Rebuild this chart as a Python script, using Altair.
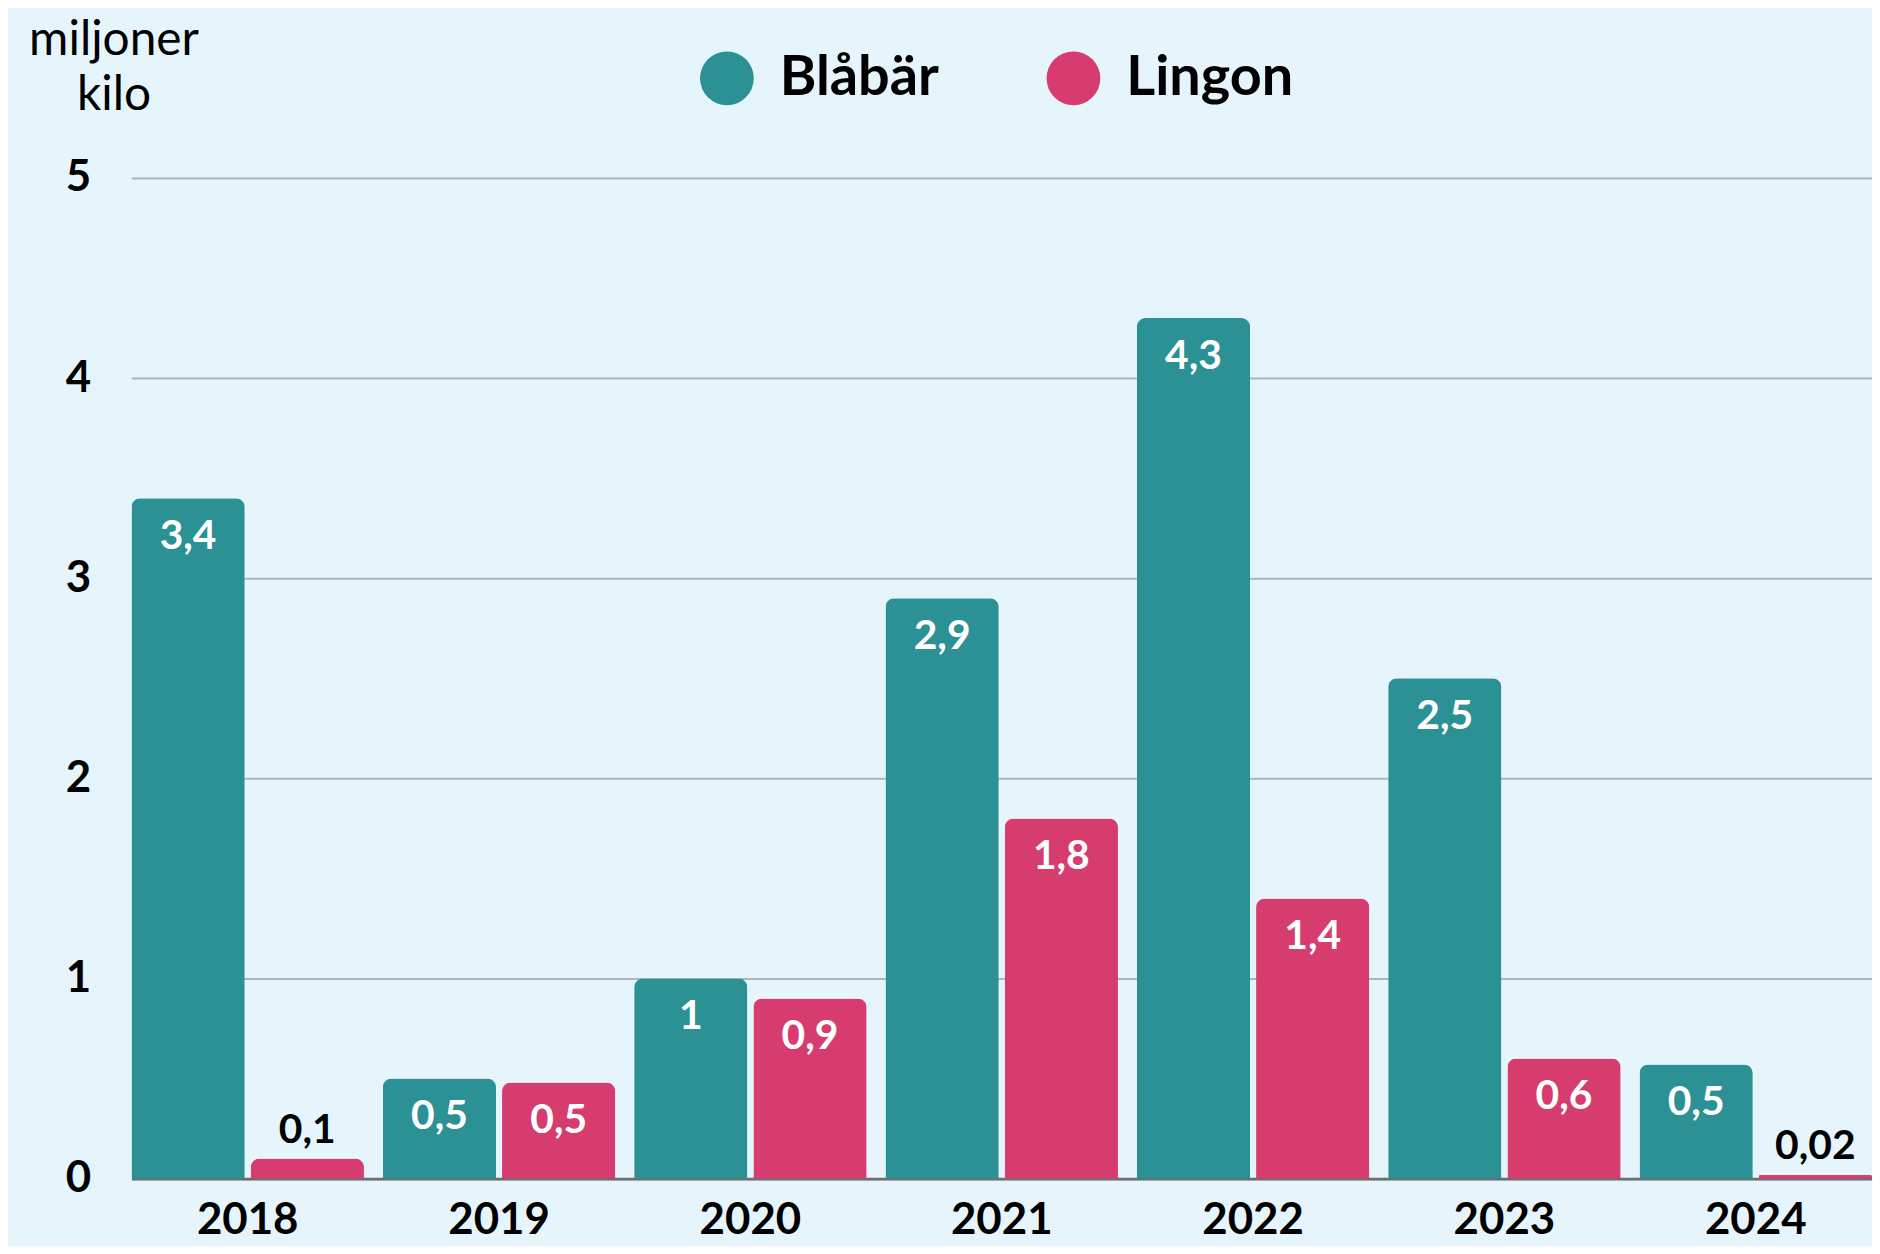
import altair as alt
import pandas as pd

years = ["2018", "2019", "2020", "2021", "2022", "2023", "2024"]
series = ["Blåbär", "Lingon"]
blabar = [3.4, 0.5, 1.0, 2.9, 4.3, 2.5, 0.57]
lingon = [0.1, 0.48, 0.9, 1.8, 1.4, 0.6, 0.02]
blabar_labels = ["3,4", "0,5", "1", "2,9", "4,3", "2,5", "0,5"]
lingon_labels = ["0,1", "0,5", "0,9", "1,8", "1,4", "0,6", "0,02"]
y_ticks = [0, 1, 2, 3, 4, 5]
colors = ["#2C9194", "#D63C6E"]

rows = []
for i, yr in enumerate(years):
    rows.append(dict(year=yr, serie=series[0], value=blabar[i], label=blabar_labels[i]))
    rows.append(dict(year=yr, serie=series[1], value=lingon[i], label=lingon_labels[i]))
df = pd.DataFrame(rows)

FONT = "Lato"

x = alt.X(
    "year:N", sort=years,
    scale=alt.Scale(paddingInner=0.075, paddingOuter=0),
    axis=alt.Axis(title=None, labelAngle=0, labelFont=FONT, labelFontSize=44,
                  labelFontWeight="bold", labelColor="#000000", labelPadding=20,
                  ticks=False, domain=True, domainColor="#6E6E6E", domainWidth=3,
                  grid=False),
)
xo = alt.XOffset("serie:N", sort=series, scale=alt.Scale(paddingInner=0.05, paddingOuter=0))
y = alt.Y(
    "value:Q",
    scale=alt.Scale(domain=[0, 5], nice=False),
    axis=alt.Axis(values=y_ticks, title=["miljoner", "kilo"], titleAngle=0,
                  titleX=-18, titleY=-124, titleAlign="center",
                  titleBaseline="alphabetic", titleFont=FONT, titleFontSize=48,
                  titleFontWeight="normal", titleLineHeight=55, titleColor="#000000",
                  labelFont=FONT, labelFontSize=44, labelFontWeight="bold",
                  labelColor="#000000", labelPadding=41, ticks=False, domain=False,
                  grid=True, gridColor="#AAB6BE", gridWidth=2),
)
color = alt.Color(
    "serie:N", sort=series,
    scale=alt.Scale(domain=series, range=colors),
    legend=alt.Legend(title=None, orient="none", legendX=570, legendY=-128,
                      direction="horizontal", symbolType="circle", symbolSize=2916,
                      symbolStrokeWidth=0, symbolOpacity=1, labelFont=FONT,
                      labelFontSize=56, labelFontWeight="bold", labelColor="#000000",
                      labelOffset=25, labelLimit=500, columnPadding=107, padding=0),
)

base = alt.Chart(df)
bars = base.mark_bar(cornerRadiusTopLeft=9, cornerRadiusTopRight=9).encode(
    x=x, xOffset=xo, y=y, color=color
)
inside = base.mark_text(baseline="top", dy=19, color="white", font=FONT,
                        fontSize=41, fontWeight="bold").encode(
    x=x, xOffset=xo, y=y, text="label:N"
).transform_filter("datum.value >= 0.3")
outside = base.mark_text(baseline="alphabetic", dy=-16, color="black", font=FONT,
                         fontSize=41, fontWeight="bold").encode(
    x=x, xOffset=xo, y=y, text="label:N"
).transform_filter("datum.value < 0.3")

chart = alt.layer(bars, inside, outside).properties(
    width=1748, height=1005,
    autosize=alt.AutoSizeParams(type="none"),
    padding={"left": 124, "top": 168, "right": 0, "bottom": 65},
).configure(background="#E6F5FC").configure_view(stroke=None)

chart.save("out.html", embed_options={"renderer": "svg", "actions": False})
